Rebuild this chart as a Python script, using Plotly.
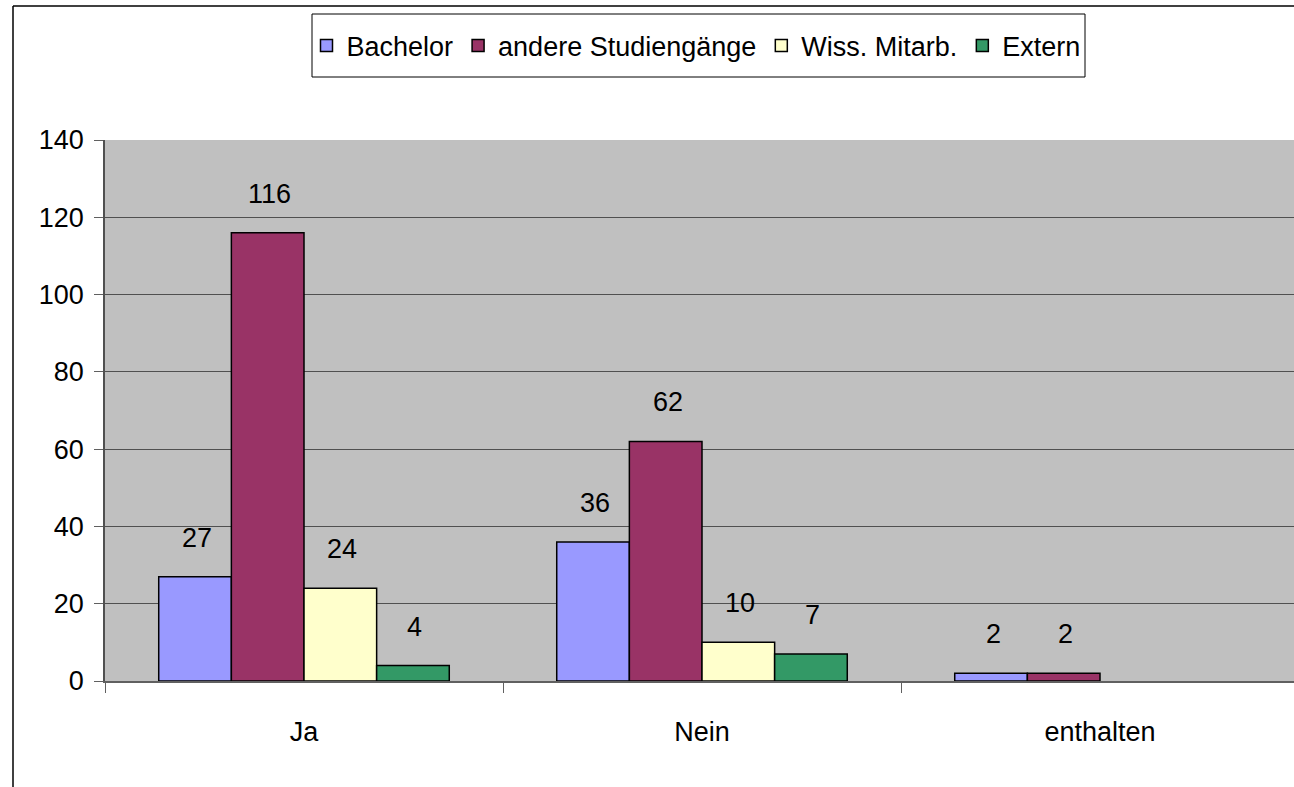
import plotly.graph_objects as go

categories = ["Ja", "Nein", "enthalten"]
series_names = ["Bachelor", "andere Studiengänge", "Wiss. Mitarb.", "Extern"]
bachelor = [27, 36, 2]
andere = [116, 62, 2]
wiss = [24, 10, None]
extern = [4, 7, None]
colors = ["#9999FF", "#993366", "#FFFFCC", "#339966"]
y_ticks = [0, 20, 40, 60, 80, 100, 120, 140]

series_values = [bachelor, andere, wiss, extern]

W, H = 1294, 787
L, R, T, B = 105, 0, 140, 106
plot_w = W - L - R
plot_h = H - T - B
cat_px = 398.0
bargap = 0.27
bar_px = cat_px * (1 - bargap) / 4


def px_x(p):
    return (p - L) / plot_w


def px_y(p):
    return 1 + (T - p) / plot_h


font = dict(family="Liberation Sans, Arial, sans-serif", size=27, color="black")

fig = go.Figure()
for name, vals, col in zip(series_names, series_values, colors):
    fig.add_trace(go.Bar(
        name=name, x=categories, y=vals,
        marker=dict(color=col, line=dict(color="black", width=1.5)),
        hoverinfo="x+y+name",
    ))

annotations = []
for i, vals in enumerate(series_values):
    for c, v in zip(categories, vals):
        if v is None:
            continue
        annotations.append(dict(
            x=c, y=v, xref="x", yref="y", text=str(v), showarrow=False,
            xshift=(i - 1.5) * bar_px + 2, yshift=39, yanchor="middle",
            font=font,
        ))

x_hi = -0.5 + plot_w / cat_px

fig.update_layout(
    width=W, height=H,
    margin=dict(l=L, r=R, t=T, b=B),
    paper_bgcolor="white", plot_bgcolor="#C0C0C0",
    barmode="group", bargap=bargap, bargroupgap=0,
    font=font,
    showlegend=True,
    legend=dict(
        orientation="h", x=px_x(696), xanchor="center", y=px_y(46), yanchor="middle",
        borderwidth=0, bgcolor="rgba(0,0,0,0)",
        font=font, traceorder="normal",
    ),
    xaxis=dict(
        type="category", range=[-0.5, x_hi],
        showline=True, linecolor="#606060", linewidth=1.5,
        ticks="outside", tickson="boundaries", ticklen=10, tickcolor="#606060",
        showgrid=False, tickfont=font, ticklabelstandoff=26,
        fixedrange=True,
    ),
    yaxis=dict(
        range=[0, 140], tickvals=y_ticks,
        showline=True, linecolor="#505050", linewidth=1.5,
        ticks="outside", ticklen=9, tickcolor="#606060",
        showgrid=True, gridcolor="#505050", gridwidth=1,
        zeroline=False, tickfont=font, ticklabelstandoff=5,
        fixedrange=True,
    ),
    annotations=annotations,
    shapes=[
        dict(type="line", xref="paper", yref="paper",
             x0=px_x(13), x1=1.05, y0=px_y(6), y1=px_y(6),
             line=dict(color="black", width=1.5)),
        dict(type="line", xref="paper", yref="paper",
             x0=px_x(13), x1=px_x(13), y0=px_y(6), y1=-0.3,
             line=dict(color="black", width=1.5)),
        dict(type="rect", xref="paper", yref="paper",
             x0=px_x(312), x1=px_x(1085), y0=px_y(14), y1=px_y(77),
             line=dict(color="black", width=1), fillcolor="white", layer="below"),
    ],
)

fig.write_html("out.html", config={"displayModeBar": False},
               post_script="document.body.style.margin='0';document.body.style.overflow='hidden';")
